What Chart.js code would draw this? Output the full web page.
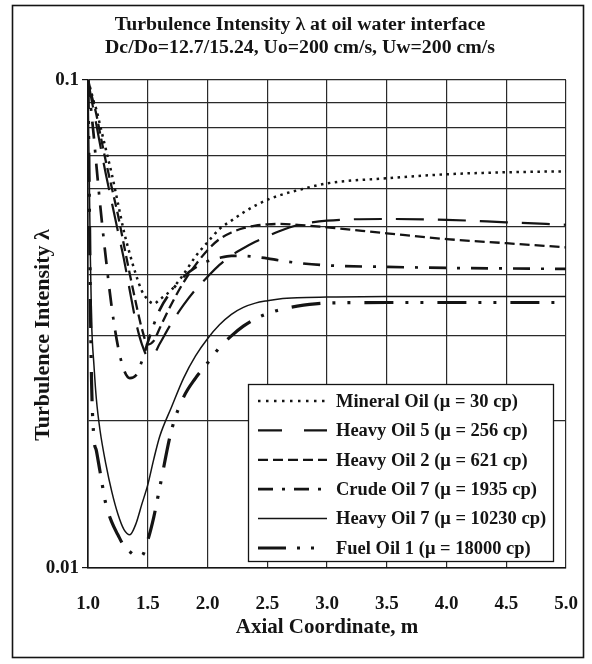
<!DOCTYPE html>
<html>
<head>
<meta charset="utf-8">
<script src="https://cdn.jsdelivr.net/npm/chart.js@4.4.1/dist/chart.umd.min.js"></script>
<style>
  html, body { margin: 0; padding: 0; background: #fff; }
  canvas { display: block; }
</style>
</head>
<body>
<canvas id="tiChart" width="592" height="664"></canvas>
<script>
// axial stations (m), shared by every oil
const axialPos = [1.0, 1.01, 1.02, 1.03, 1.05, 1.07, 1.1, 1.15, 1.2, 1.25, 1.3, 1.35, 1.4, 1.45, 1.5, 1.55, 1.6,
  1.7, 1.8, 1.9, 2.0, 2.1, 2.2, 2.3, 2.4, 2.5, 2.6, 2.75, 3.0, 3.5, 4.0, 4.5, 5.0];

// turbulence intensity at the interface for each oil
const mineralOil = [0.1, 0.098, 0.096, 0.094, 0.090, 0.087, 0.081, 0.072, 0.064, 0.056, 0.049, 0.044, 0.040, 0.037,
  0.0355, 0.0348, 0.0355, 0.0372, 0.040, 0.0435, 0.0465, 0.0495, 0.0515, 0.0535, 0.0553, 0.0568, 0.058, 0.0594,
  0.0614, 0.0629, 0.0641, 0.0647, 0.065];
const heavyOil5 = [0.1, 0.097, 0.094, 0.091, 0.086, 0.081, 0.074, 0.064, 0.056, 0.049, 0.043, 0.037, 0.032, 0.0288,
  0.0272, 0.0274, 0.0288, 0.0318, 0.0346, 0.0372, 0.0395, 0.0418, 0.0437, 0.0452, 0.0466, 0.0478, 0.049, 0.0504,
  0.0515, 0.0519, 0.0517, 0.0511, 0.0505];
const heavyOil2 = [0.1, 0.098, 0.095, 0.093, 0.089, 0.085, 0.078, 0.068, 0.060, 0.053, 0.046, 0.040, 0.035, 0.031,
  0.0287, 0.0292, 0.031, 0.0348, 0.0385, 0.0418, 0.0448, 0.0472, 0.0487, 0.0497, 0.0503, 0.0506, 0.0507, 0.0505,
  0.0499, 0.0485, 0.0472, 0.0463, 0.0454];
const crudeOil7 = [0.1, 0.095, 0.09, 0.085, 0.076, 0.067, 0.056, 0.043, 0.034, 0.0285, 0.0255, 0.0245, 0.0248, 0.0265,
  0.029, 0.0315, 0.0338, 0.037, 0.0395, 0.0413, 0.0425, 0.0432, 0.0436, 0.0436, 0.0434, 0.0431, 0.0427, 0.0422,
  0.0417, 0.0414, 0.0412, 0.0411, 0.041];
const heavyOil7 = [0.1, 0.065, 0.043, 0.032, 0.026, 0.0222, 0.0192, 0.0163, 0.0143, 0.0129, 0.012, 0.0117, 0.0123,
  0.0135, 0.0148, 0.0167, 0.0186, 0.0214, 0.0245, 0.0272, 0.0295, 0.0315, 0.0331, 0.0342, 0.0349, 0.0353, 0.0356,
  0.0358, 0.0359, 0.036, 0.036, 0.036, 0.036];
const fuelOil1 = [0.1, 0.06, 0.035, 0.024, 0.0184, 0.0174, 0.0158, 0.0135, 0.0124, 0.0117, 0.0111, 0.0108, 0.0106,
  0.0106, 0.0114, 0.0127, 0.0146, 0.0192, 0.0224, 0.0245, 0.0263, 0.0283, 0.0299, 0.0313, 0.0324, 0.0332, 0.0338,
  0.0344, 0.0349, 0.035, 0.035, 0.035, 0.035];

const seriesNames = ['Mineral Oil (\u03bc = 30 cp)', 'Heavy Oil 5 (\u03bc = 256 cp)', 'Heavy Oil 2 (\u03bc = 621 cp)',
  'Crude Oil 7 (\u03bc = 1935 cp)', 'Heavy Oil 7 (\u03bc = 10230 cp)', 'Fuel Oil 1 (\u03bc = 18000 cp)'];
const seriesValues = [mineralOil, heavyOil5, heavyOil2, crudeOil7, heavyOil7, fuelOil1];

const xTickValues = [1.0, 1.5, 2.0, 2.5, 3.0, 3.5, 4.0, 4.5, 5.0];
const yGridValues = [0.01, 0.02, 0.03, 0.04, 0.05, 0.06, 0.07, 0.08, 0.09, 0.1];
const yTickLabels = ['0.01', '0.1'];

const titleLines = ['Turbulence Intensity \u03bb at oil water interface',
  'Dc/Do=12.7/15.24, Uo=200 cm/s, Uw=200 cm/s'];
const yAxisTitle = 'Turbulence Intensity \u03bb';

// line patterns: plot dash, legend-sample dash, width
const lineStyles = [
  { dash: [2.5, 4.5], legendDash: [2.5, 5.5], width: 2.5 },
  { dash: [28, 14], legendDash: [24, 22], width: 2.2 },
  { dash: [10, 5], legendDash: [10, 5], width: 2.3 },
  { dash: [17, 11, 3, 11], legendDash: [15, 9, 3, 9], width: 2.7 },
  { dash: [], legendDash: [], width: 1.5 },
  { dash: [29, 12, 3, 12, 3, 14], legendDash: [28, 11, 3, 11, 3, 20], width: 3.2 }
];

const INK = '#141414';
const SERIF = '"Liberation Serif", "Times New Roman", serif';

const datasets = seriesNames.map((name, s) => ({
  label: name,
  data: axialPos.map((x, i) => ({ x, y: seriesValues[s][i] })),
  borderColor: INK,
  borderWidth: lineStyles[s].width,
  borderDash: lineStyles[s].dash,
  pointRadius: 0,
  cubicInterpolationMode: 'monotone',
  fill: false
}));

// white page, outer frame, heading and the vertical axis caption
const framePlugin = {
  id: 'frame',
  beforeDraw(chart) {
    const { ctx, width, height } = chart;
    ctx.save();
    ctx.fillStyle = '#fff';
    ctx.fillRect(0, 0, width, height);
    ctx.strokeStyle = INK;
    ctx.lineWidth = 1.6;
    ctx.strokeRect(12.5, 5.5, width - 21, height - 12);
    ctx.restore();
  },
  afterDraw(chart) {
    const { ctx, chartArea } = chart;
    ctx.save();
    ctx.fillStyle = INK;
    ctx.font = 'bold 19.8px ' + SERIF;
    ctx.textAlign = 'center';
    ctx.textBaseline = 'middle';
    titleLines.forEach((t, i) => ctx.fillText(t, 300, 25 + i * 23));
    ctx.translate(43, (chartArea.top + chartArea.bottom) / 2 + 11);
    ctx.rotate(-Math.PI / 2);
    ctx.font = 'bold 22px ' + SERIF;
    ctx.fillText(yAxisTitle, 0, 0);
    ctx.restore();
  }
};

// boxed legend sitting in the lower right of the plot
const insetLegend = {
  id: 'insetLegend',
  afterDatasetsDraw(chart) {
    const { ctx, chartArea } = chart;
    const w = 305, h = 177;
    const left = chartArea.right - 13 - w;
    const top = chartArea.bottom - 7 - h;
    ctx.save();
    ctx.fillStyle = '#fff';
    ctx.fillRect(left, top, w, h);
    ctx.strokeStyle = INK;
    ctx.lineWidth = 1.3;
    ctx.strokeRect(left + 0.5, top + 0.5, w, h);
    ctx.font = 'bold 18.5px ' + SERIF;
    ctx.textBaseline = 'middle';
    ctx.fillStyle = INK;
    chart.data.datasets.forEach((ds, i) => {
      const y = top + 17 + i * 29.4;
      ctx.beginPath();
      ctx.setLineDash(lineStyles[i].legendDash);
      ctx.lineWidth = lineStyles[i].width;
      ctx.moveTo(left + 10, y);
      ctx.lineTo(left + 79, y);
      ctx.stroke();
      ctx.setLineDash([]);
      ctx.fillText(ds.label, left + 88, y + 1);
    });
    ctx.restore();
  }
};

new Chart(document.getElementById('tiChart'), {
  type: 'line',
  data: { datasets },
  options: {
    responsive: false,
    animation: false,
    layout: { padding: { top: 80, left: 14, right: 26, bottom: 0 } },
    plugins: {
      legend: { display: false },
      tooltip: { enabled: false }
    },
    scales: {
      x: {
        type: 'linear',
        min: 1,
        max: 5,
        afterFit: (scale) => { scale.height = 96; },
        afterBuildTicks: (scale) => { scale.ticks = xTickValues.map(v => ({ value: v })); },
        // invisible tick marks just push the labels down
        grid: { color: '#2a2a2a', lineWidth: 1.2, tickLength: 22, tickColor: 'rgba(0,0,0,0)' },
        border: { color: INK, width: 1.6 },
        ticks: {
          padding: 3,
          color: INK,
          font: { family: SERIF, size: 19, weight: 'bold' },
          callback: (v) => Number(v).toFixed(1)
        },
        title: {
          display: true,
          text: 'Axial Coordinate, m',
          color: INK,
          font: { family: SERIF, size: 21, weight: 'bold' },
          padding: { top: 0, bottom: 24 }
        }
      },
      y: {
        type: 'logarithmic',
        min: 0.01,
        max: 0.1,
        afterFit: (scale) => { scale.width = 74; },
        afterBuildTicks: (scale) => { scale.ticks = yGridValues.map(v => ({ value: v })); },
        grid: {
          color: '#2a2a2a',
          lineWidth: 1.2,
          tickLength: 6,
          tickColor: (c) => yTickLabels.includes(String(c.tick && c.tick.value)) ? INK : 'rgba(0,0,0,0)'
        },
        border: { color: INK, width: 1.6 },
        ticks: {
          padding: 3,
          color: INK,
          font: { family: SERIF, size: 19, weight: 'bold' },
          callback: (v) => yTickLabels.includes(String(v)) ? String(v) : ''
        }
      }
    }
  },
  plugins: [framePlugin, insetLegend]
});
</script>
</body>
</html>
